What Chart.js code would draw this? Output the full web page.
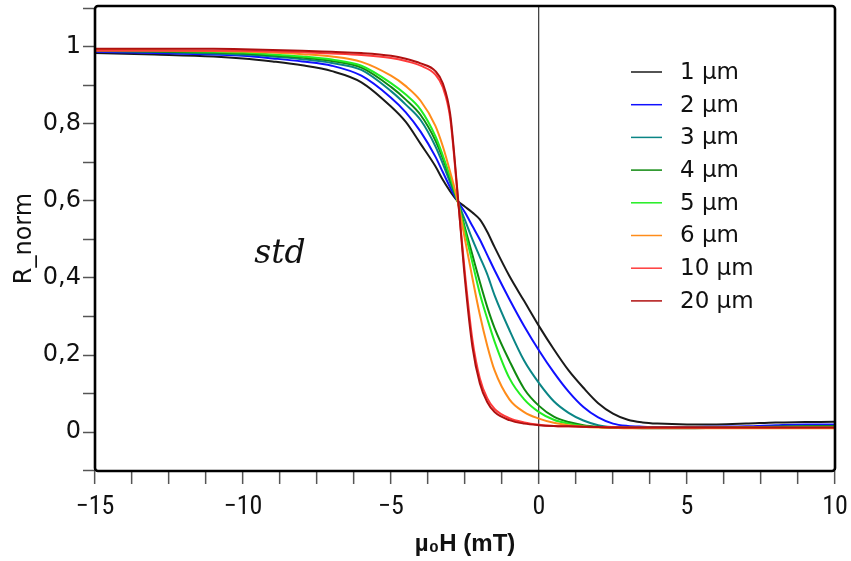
<!DOCTYPE html>
<html lang="en">
	<head>
		<meta charset="UTF-8" />
		<title>R_norm vs field</title>
		<script src="https://cdn.jsdelivr.net/npm/chart.js@4.4.1/dist/chart.umd.min.js"></script>
		<style>
			html, body { margin: 0; padding: 0; background: #fff; }
			canvas { display: block; }
		</style>
	</head>
	<body>
		<canvas id="myChart" width="851" height="561"></canvas>

		<script>
			// field values (mT), shared by all curves
			const fieldMT = [-15, -13, -11, -10, -9, -8, -7, -6, -5, -4.5, -4, -3.5, -3.25, -3, -2.75, -2.5, -2.25, -2, -1.75, -1.5, -1, -0.5, 0, 0.5, 1, 1.5, 2, 2.5, 3, 3.5, 4, 5, 6, 7, 8, 9, 10];

			// normalised resistance
			const r1um  = [0.984, 0.98, 0.975, 0.97, 0.962, 0.952, 0.937, 0.908, 0.845, 0.805, 0.748, 0.69, 0.655, 0.625, 0.6, 0.585, 0.57, 0.552, 0.52, 0.48, 0.405, 0.34, 0.275, 0.215, 0.16, 0.115, 0.075, 0.048, 0.032, 0.025, 0.022, 0.02, 0.02, 0.022, 0.025, 0.026, 0.027];
			const r2um  = [0.987, 0.984, 0.98, 0.977, 0.97, 0.962, 0.951, 0.925, 0.868, 0.83, 0.78, 0.715, 0.675, 0.635, 0.6, 0.57, 0.535, 0.5, 0.46, 0.42, 0.345, 0.275, 0.212, 0.155, 0.105, 0.065, 0.038, 0.022, 0.016, 0.014, 0.013, 0.013, 0.014, 0.015, 0.018, 0.02, 0.02];
			const r3um  = [0.989, 0.987, 0.983, 0.98, 0.975, 0.968, 0.958, 0.94, 0.885, 0.85, 0.81, 0.742, 0.697, 0.647, 0.6, 0.55, 0.5, 0.455, 0.41, 0.355, 0.265, 0.185, 0.127, 0.08, 0.05, 0.03, 0.018, 0.013, 0.011, 0.01, 0.01, 0.01, 0.011, 0.012, 0.014, 0.015, 0.016];
			const r4um  = [0.99, 0.988, 0.985, 0.983, 0.978, 0.972, 0.963, 0.946, 0.896, 0.863, 0.823, 0.757, 0.711, 0.656, 0.6, 0.53, 0.46, 0.39, 0.325, 0.27, 0.185, 0.112, 0.068, 0.04, 0.026, 0.018, 0.014, 0.012, 0.011, 0.011, 0.011, 0.011, 0.012, 0.013, 0.014, 0.015, 0.015];
			const r5um  = [0.991, 0.99, 0.987, 0.985, 0.98, 0.975, 0.967, 0.951, 0.906, 0.876, 0.837, 0.768, 0.718, 0.662, 0.6, 0.52, 0.44, 0.36, 0.295, 0.235, 0.14, 0.085, 0.052, 0.032, 0.022, 0.016, 0.013, 0.012, 0.011, 0.011, 0.011, 0.011, 0.011, 0.012, 0.012, 0.013, 0.013];
			const r6um  = [0.992, 0.991, 0.989, 0.988, 0.985, 0.981, 0.975, 0.961, 0.925, 0.898, 0.86, 0.795, 0.742, 0.675, 0.6, 0.5, 0.4, 0.305, 0.225, 0.16, 0.085, 0.052, 0.035, 0.024, 0.018, 0.014, 0.012, 0.011, 0.01, 0.01, 0.01, 0.01, 0.01, 0.01, 0.01, 0.01, 0.01];
			const r10um = [0.99, 0.99, 0.99, 0.99, 0.988, 0.986, 0.983, 0.979, 0.971, 0.963, 0.951, 0.928, 0.895, 0.815, 0.615, 0.41, 0.24, 0.14, 0.088, 0.06, 0.036, 0.025, 0.019, 0.016, 0.015, 0.014, 0.013, 0.013, 0.012, 0.012, 0.012, 0.012, 0.012, 0.012, 0.012, 0.012, 0.012];
			const r20um = [0.995, 0.995, 0.995, 0.994, 0.992, 0.99, 0.987, 0.984, 0.977, 0.969, 0.957, 0.937, 0.905, 0.825, 0.62, 0.395, 0.222, 0.127, 0.078, 0.052, 0.031, 0.022, 0.018, 0.016, 0.015, 0.014, 0.013, 0.012, 0.012, 0.012, 0.012, 0.012, 0.012, 0.012, 0.012, 0.012, 0.012];

			const seriesLabels = ["1 µm", "2 µm", "3 µm", "4 µm", "5 µm", "6 µm", "10 µm", "20 µm"];
			const seriesValues = [r1um, r2um, r3um, r4um, r5um, r6um, r10um, r20um];
			const seriesColors = ["#1a1a1a", "#1010ff", "#0a8585", "#108a10", "#22ee22", "#ff8c1a", "#ff3b3b", "#b01010"];

			const ctx = document.getElementById("myChart").getContext("2d");

			const datasets = seriesValues.map((vals, i) => ({
				label: seriesLabels[i],
				data: fieldMT.map((x, j) => ({ x, y: vals[j] })),
				borderColor: seriesColors[i],
				borderWidth: 2,
				pointRadius: 0,
				cubicInterpolationMode: "monotone",
				order: seriesValues.length - i, // reds on top
			}));

			// box round the plot, legend and "std" note
			const decorations = {
				id: "decorations",
				afterDraw(chart) {
					const { ctx, chartArea: a, scales } = chart;
					ctx.save();
					ctx.strokeStyle = "#000";
					ctx.lineWidth = 2.6;
					ctx.beginPath();
					ctx.roundRect(a.left, a.top, a.right - a.left, a.bottom - a.top, 3);
					ctx.stroke();

					// legend
					ctx.font = "23px 'DejaVu Sans'";
					ctx.textBaseline = "middle";
					ctx.fillStyle = "#111";
					chart.data.datasets.forEach((ds, i) => {
						const y = 72 + i * 32.7;
						ctx.strokeStyle = ds.borderColor;
						ctx.lineWidth = 1.5;
						ctx.beginPath();
						ctx.moveTo(631, y);
						ctx.lineTo(662, y);
						ctx.stroke();
						ctx.fillText(ds.label, 680, y + 1);
					});

					ctx.font = "italic 33px 'DejaVu Serif'";
					ctx.textAlign = "center";
					ctx.fillText("std", scales.x.getPixelForValue(-8.75), scales.y.getPixelForValue(0.46));
					ctx.restore();
				},
			};

			const noPad = (s) => {
				s.paddingTop = 0;
				s.paddingBottom = 0;
				s.paddingLeft = 0;
				s.paddingRight = 0;
			};

			new Chart(ctx, {
				type: "line",
				data: { datasets },
				plugins: [decorations],
				options: {
					responsive: false,
					animation: false,
					layout: { padding: { left: 0, top: 6, right: 16, bottom: 0 } },
					plugins: { legend: { display: false }, tooltip: { enabled: false } },
					scales: {
						x: {
							type: "linear",
							min: -15,
							max: 10,
							afterFit: (s) => { s.height = 90; noPad(s); },
							border: { display: false },
							grid: {
								drawOnChartArea: true,
								color: (c) => (c.tick && c.tick.value === 0 ? "#444" : "rgba(0,0,0,0)"),
								lineWidth: 1.3,
								tickColor: "#555",
								tickLength: 13,
								tickWidth: 1.5,
							},
							ticks: {
								stepSize: 1.25,
								autoSkip: false,
								maxRotation: 0,
								padding: 8,
								color: "#111",
								font: { family: "'Liberation Sans Narrow', 'Roboto Condensed', sans-serif", size: 26 },
								callback: (v) => (v % 5 === 0 ? (v < 0 ? "\u2212" + -v : String(v)) : ""),
							},
							title: {
								display: true,
								text: "µ\u2080H (mT)",
								color: "#111",
								font: { family: "'Liberation Sans Narrow', sans-serif", size: 24, weight: "600" },
								padding: { top: 0, bottom: 2 },
							},
						},
						y: {
							min: -0.101,
							max: 1.106,
							afterFit: (s) => { s.width = 95; noPad(s); },
							border: { display: false },
							grid: {
								drawOnChartArea: false,
								tickColor: "#555",
								tickLength: 12,
								tickWidth: 1.5,
							},
							ticks: {
								stepSize: 0.1,
								includeBounds: false,
								autoSkip: false,
								padding: 2,
								color: "#111",
								font: { family: "'DejaVu Sans'", size: 24 },
								callback: (v) => {
									const k = Math.round(v * 10);
									if (k < 0 || k > 10 || k % 2 !== 0) return "";
									return k === 0 ? "0" : k === 10 ? "1" : "0," + k;
								},
							},
							title: {
								display: true,
								text: "R_norm",
								color: "#111",
								font: { family: "'DejaVu Sans'", size: 24 },
								padding: { top: 10, bottom: 0 },
							},
						},
					},
				},
			});
		</script>
	</body>
</html>
